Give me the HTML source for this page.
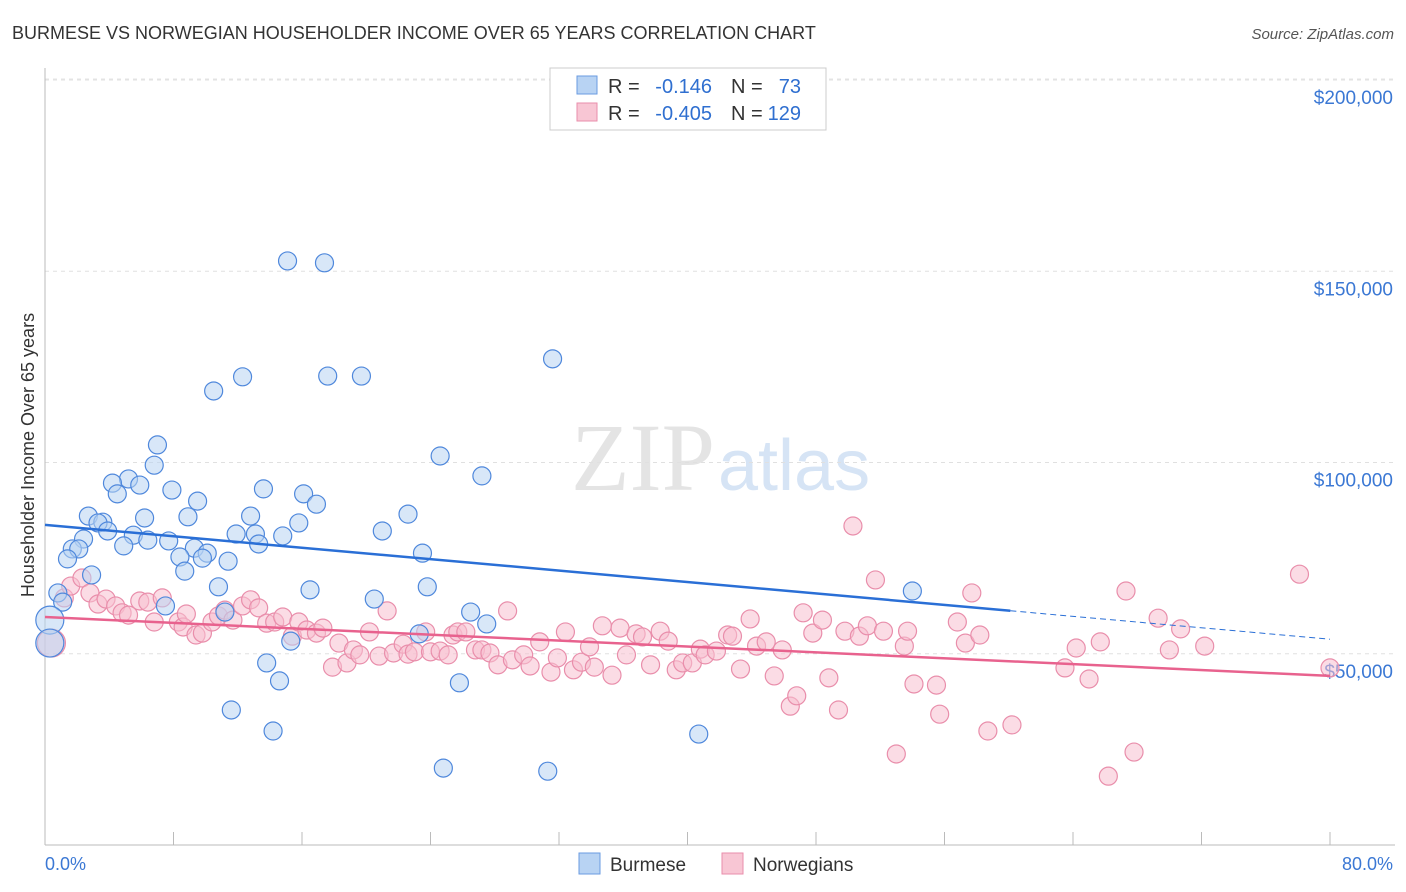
<!DOCTYPE html>
<html><head><meta charset="utf-8">
<style>
body{margin:0;background:#fff;font-family:"Liberation Sans",sans-serif;}
#wrap{position:relative;width:1406px;height:892px;overflow:hidden;}
</style></head>
<body>
<div id="wrap">
<svg id="svg" width="1406" height="892" xmlns="http://www.w3.org/2000/svg">
<text x="12" y="39" font-size="18" fill="#333">BURMESE VS NORWEGIAN HOUSEHOLDER INCOME OVER 65 YEARS CORRELATION CHART</text>
<text x="1394" y="39" font-size="15" fill="#555" font-style="italic" text-anchor="end">Source: ZipAtlas.com</text>
<text x="715" y="490" font-size="96" fill="#e4e4e4" font-family="Liberation Serif" text-anchor="end">ZIP</text>
<text x="718" y="490" font-size="72" fill="#d6e4f5">atlas</text>
<text transform="translate(34,455) rotate(-90)" font-size="18" fill="#333" text-anchor="middle">Householder Income Over 65 years</text>
<g id="grid"></g><g id="pts"></g><g id="lines"></g>
<g>
<rect x="550" y="68" width="276" height="62" fill="#fff" stroke="#ccc"/>
<rect x="577" y="76" width="20" height="18" fill="#b8d3f3" stroke="#6a9be0"/>
<rect x="577" y="103" width="20" height="18" fill="#f8c6d4" stroke="#e98eab"/>
<text x="608" y="93" font-size="20" fill="#333">R =</text>
<text x="712" y="93" font-size="20" fill="#2f6fd0" text-anchor="end">-0.146</text>
<text x="731" y="93" font-size="20" fill="#333">N =</text>
<text x="801" y="93" font-size="20" fill="#2f6fd0" text-anchor="end">73</text>
<text x="608" y="120" font-size="20" fill="#333">R =</text>
<text x="712" y="120" font-size="20" fill="#2f6fd0" text-anchor="end">-0.405</text>
<text x="731" y="120" font-size="20" fill="#333">N =</text>
<text x="801" y="120" font-size="20" fill="#2f6fd0" text-anchor="end">129</text>
</g>
<g>
<rect x="579" y="853" width="21" height="21" fill="#b8d3f3" stroke="#6a9be0"/>
<text x="610" y="871" font-size="19" fill="#333">Burmese</text>
<rect x="722" y="853" width="21" height="21" fill="#f8c6d4" stroke="#e98eab"/>
<text x="753" y="871" font-size="19" fill="#333">Norwegians</text>
</g>
<text x="45" y="870" font-size="18" fill="#3b78d4">0.0%</text>
<text x="1393" y="870" font-size="18" fill="#3b78d4" text-anchor="end">80.0%</text>
</svg>
</div>
<script>
const yTicks=[50000,100000,150000,200000];
const yTickLabels=["$50,000","$100,000","$150,000","$200,000"];
const xTicks=[0,8,16,24,32,40,48,56,64,72,80];
const burX=[15.1,17.4,31.6,10.5,12.3,17.6,19.7,7.0,6.8,24.6,27.2,5.2,4.2,5.9,4.5,7.9,13.6,9.5,16.1,16.9,2.7,3.6,3.3,6.2,8.9,12.8,15.8,22.6,2.4,3.9,5.5,6.4,7.7,11.9,13.1,14.8,21.0,1.7,2.1,4.9,9.3,10.1,13.3,1.4,8.4,9.8,11.4,23.5,2.9,8.7,10.8,16.5,23.8,54.0,20.5,0.8,1.1,7.5,11.2,26.5,27.5,23.3,15.3,0.3,13.8,14.6,25.8,11.6,14.2,40.7,24.8,31.3,0.3];
const burY=[152.7,152.2,127.1,118.7,122.4,122.6,122.6,104.6,99.3,101.7,96.5,95.7,94.6,94.1,91.8,92.8,93.1,89.9,91.8,89.1,86.0,84.4,84.2,85.5,85.8,86.0,84.2,86.5,80.0,82.1,81.0,79.7,79.5,81.3,81.3,80.8,82.1,77.4,77.4,78.2,77.6,76.3,78.7,74.8,75.3,75.0,74.2,76.3,70.6,71.6,67.5,66.7,67.5,66.4,64.3,65.9,63.5,62.5,60.9,60.9,57.8,55.2,53.3,58.8,47.6,42.9,42.4,35.3,29.8,29.0,20.1,19.3,52.8];
const norX=[1.2,1.6,2.3,2.8,3.3,3.8,4.4,4.8,5.2,5.9,6.4,6.8,7.3,8.3,8.6,8.8,9.4,9.8,10.4,10.8,11.2,11.7,12.3,12.8,13.3,13.8,14.3,14.8,15.4,15.8,16.3,16.9,17.3,17.9,18.3,18.8,19.2,19.6,20.2,20.8,21.3,21.7,22.3,22.6,23.0,23.7,24.0,24.6,25.1,25.4,25.7,26.2,26.8,27.2,27.7,28.2,28.8,29.1,29.8,30.2,30.8,31.5,31.9,32.4,32.9,33.4,33.9,34.2,34.7,35.3,35.8,36.2,36.8,37.2,37.7,38.3,38.8,39.3,39.7,40.3,40.8,41.1,41.8,42.5,42.8,43.3,43.9,44.3,44.9,45.4,45.9,46.4,46.8,47.2,47.8,48.4,48.8,49.4,49.8,50.3,50.7,51.2,51.7,52.2,53.0,53.5,53.7,54.1,55.5,55.7,56.8,57.3,57.7,58.2,58.7,60.2,63.5,64.2,65.0,65.7,66.2,67.3,67.8,69.3,70.0,70.7,72.2,78.1,80.0,0.4];
const norY=[64.6,67.7,69.8,65.9,63.0,64.3,62.5,60.7,60.1,63.8,63.5,58.3,64.6,58.3,57.0,60.4,54.9,55.4,58.3,59.9,61.4,58.8,62.5,64.1,62.0,58.0,58.3,59.6,54.6,58.3,56.2,55.4,56.7,46.5,52.8,47.6,51.0,49.7,55.7,49.4,61.2,50.2,52.5,49.9,50.5,55.7,50.5,50.7,49.7,54.9,55.7,55.7,51.0,51.0,50.2,47.1,61.2,48.4,49.7,46.8,53.1,45.2,48.9,55.7,45.8,47.8,51.8,46.5,57.3,44.4,56.7,49.7,55.2,54.4,47.1,55.9,53.3,45.8,47.6,47.6,51.2,49.7,50.7,54.9,54.6,46.0,59.1,52.0,53.1,44.2,51.0,36.3,39.0,60.7,55.4,58.8,43.7,35.3,55.9,83.4,54.6,57.3,69.3,55.9,23.8,52.0,55.9,42.1,41.8,34.2,58.3,52.8,65.9,54.9,29.8,31.4,46.3,51.5,43.4,53.1,18.0,66.4,24.3,59.3,51.0,56.5,52.0,70.8,46.3,52.8];
const burTrend=[83.7,53.8];
const norTrend=[59.6,44.2];
const NS="http://www.w3.org/2000/svg";
const X=v=>45+v/80*1285;
const Y=v=>845-v/50000*191.25;
function mk(tag,at,parent){const e=document.createElementNS(NS,tag);for(const k in at)e.setAttribute(k,at[k]);parent.appendChild(e);return e;}
const gridG=document.getElementById('grid'),ptsG=document.getElementById('pts'),linesG=document.getElementById('lines');
const topLine=mk('line',{x1:45,x2:1395,y1:79,y2:79,stroke:'#e6e6e6','stroke-dasharray':'4,4'},gridG);


yTicks.forEach((t,i)=>{
 const g=mk('line',{x1:45,x2:1395,y1:Y(t),y2:Y(t),stroke:'#e0e0e0','stroke-dasharray':'4,4'},gridG);
 
 
 const tx=mk('text',{x:1393,y:Y(t)+24,'font-size':19,fill:'#3b78d4','text-anchor':'end'},gridG);
 tx.textContent=yTickLabels[i];
 
 
});
const yAx=mk('line',{x1:45,x2:45,y1:68,y2:845,stroke:'#bbb'},gridG);


const xAx=mk('line',{x1:45,x2:1395,y1:845,y2:845,stroke:'#bbb'},gridG);


xTicks.forEach(t=>{
 const l=mk('line',{x1:X(t),x2:X(t),y1:832,y2:845,stroke:'#bbb'},gridG);
 
 
});
function dots(xs,ys,fill,stroke,name){
 xs.forEach((x,i)=>{
  const big=(x<0.5);
  const c=mk('circle',{cx:X(x),cy:Y(ys[i]*1000),r:big?14:9,fill:fill,'fill-opacity':0.55,stroke:stroke,'stroke-width':1.2},ptsG);
  
  
 });
}
dots(norX,norY,'#f7bfd0','#e98eab','norwegians-point');
dots(burX,burY,'#b8d3f3','#4f88dc','burmese-point');
const by=x=>burTrend[0]+(burTrend[1]-burTrend[0])*x/80;
const bl=mk('line',{x1:X(0),y1:Y(by(0)*1000),x2:X(60.1),y2:Y(by(60.1)*1000),stroke:'#2a6fd6','stroke-width':2.5},linesG);


const bd=mk('line',{x1:X(60.1),y1:Y(by(60.1)*1000),x2:X(80),y2:Y(by(80)*1000),stroke:'#2a6fd6','stroke-width':1,'stroke-dasharray':'6,4'},linesG);


const pl=mk('line',{x1:X(0),y1:Y(norTrend[0]*1000),x2:X(80),y2:Y(norTrend[1]*1000),stroke:'#e8628e','stroke-width':2.5},linesG);


</script>
</body></html>
